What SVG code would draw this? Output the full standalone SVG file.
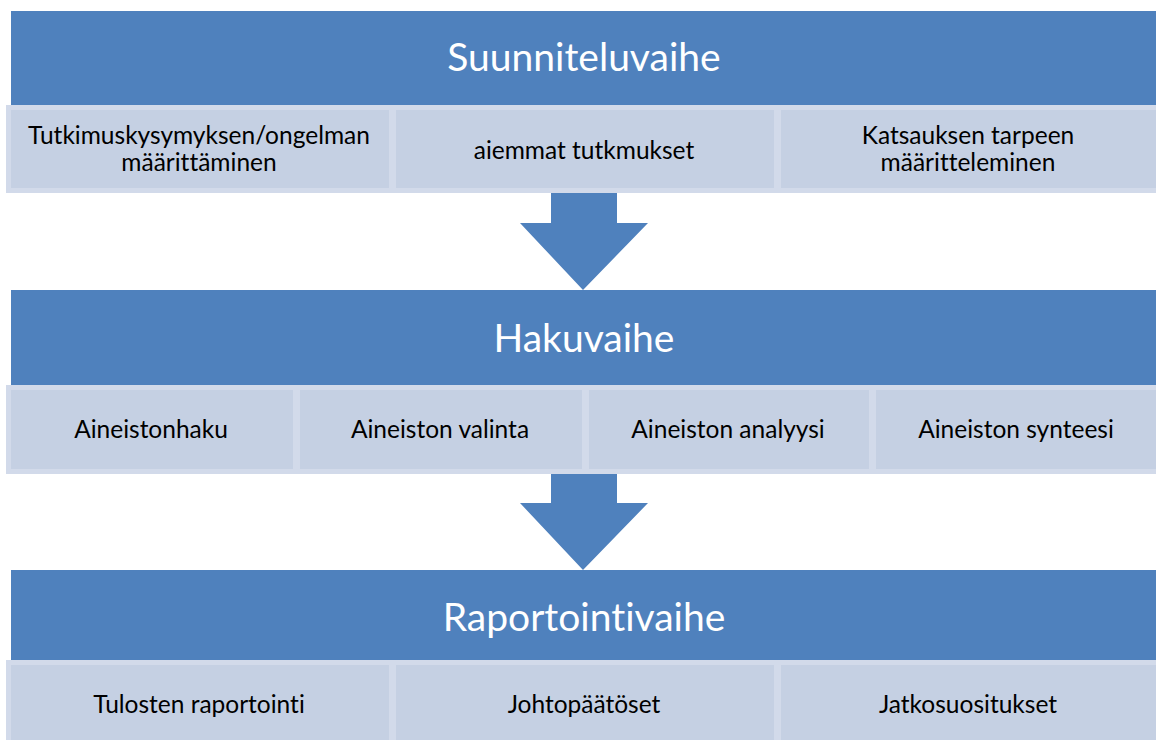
<svg xmlns="http://www.w3.org/2000/svg" width="1156" height="740" viewBox="0 0 1156 740">
<style>
.hdr{fill:#4F81BD}
.sub{fill:#C5D0E3;stroke:#D2DAEA;stroke-width:5}
.ht{font-family:Lato,"Liberation Sans",sans-serif;font-size:39px;fill:#FFFFFF;text-anchor:middle;font-variant-ligatures:none}
.st{font-family:Lato,"Liberation Sans",sans-serif;font-size:24.5px;fill:#000000;text-anchor:middle;font-variant-ligatures:none}
.arr{fill:#4F81BD}
</style>
<rect width="1156" height="740" fill="#FFFFFF"/>
<g id="connectors">
<polygon class="arr" points="551,190 617,190 617,223 648,223 583,290 520,223 551,223"/>
<polygon class="arr" points="551,470 617,470 617,503 648,503 583,570 520,503 551,503"/>
</g>
<g id="suunniteluvaihe">
<rect class="hdr" x="11" y="11" width="1150" height="94"/>
<text class="ht" x="584" y="71">Suunniteluvaihe</text>
</g>
<g id="tutkimuskysymys">
<rect class="sub" x="8.5" y="107.5" width="383" height="83"/>
<text class="st" x="199" y="144">Tutkimuskysymyksen/ongelman</text>
<text class="st" x="199" y="171">määrittäminen</text>
</g>
<g id="aiemmat">
<rect class="sub" x="393.5" y="107.5" width="383" height="83"/>
<text class="st" x="584" y="159">aiemmat tutkmukset</text>
</g>
<g id="katsaus">
<rect class="sub" x="778.5" y="107.5" width="383" height="83"/>
<text class="st" x="968" y="144">Katsauksen tarpeen</text>
<text class="st" x="968" y="171">määritteleminen</text>
</g>
<g id="hakuvaihe">
<rect class="hdr" x="11" y="290" width="1150" height="95"/>
<text class="ht" x="584" y="352">Hakuvaihe</text>
</g>
<g id="aineistonhaku">
<rect class="sub" x="8.5" y="387.5" width="287" height="84"/>
<text class="st" x="151" y="438">Aineistonhaku</text>
</g>
<g id="valinta">
<rect class="sub" x="297.5" y="387.5" width="287" height="84"/>
<text class="st" x="440" y="438">Aineiston valinta</text>
</g>
<g id="analyysi">
<rect class="sub" x="586.5" y="387.5" width="285" height="84"/>
<text class="st" x="728" y="438">Aineiston analyysi</text>
</g>
<g id="synteesi">
<rect class="sub" x="873.5" y="387.5" width="288" height="84"/>
<text class="st" x="1016" y="438">Aineiston synteesi</text>
</g>
<g id="raportointivaihe">
<rect class="hdr" x="11" y="570" width="1150" height="90"/>
<text class="ht" x="584" y="631">Raportointivaihe</text>
</g>
<g id="tulosten">
<rect class="sub" x="8.5" y="662.5" width="383" height="83"/>
<text class="st" x="199" y="713">Tulosten raportointi</text>
</g>
<g id="johtopaatokset">
<rect class="sub" x="393.5" y="662.5" width="383" height="83"/>
<text class="st" x="584" y="713">Johtopäätöset</text>
</g>
<g id="jatkosuositukset">
<rect class="sub" x="778.5" y="662.5" width="383" height="83"/>
<text class="st" x="968" y="713">Jatkosuositukset</text>
</g>
</svg>
